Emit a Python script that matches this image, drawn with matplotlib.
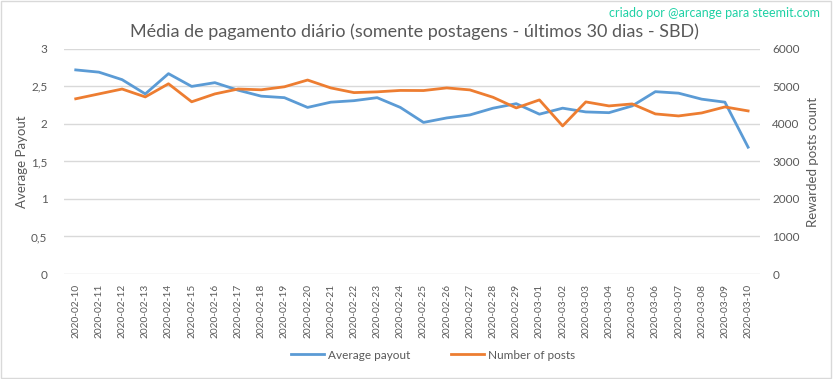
import matplotlib.pyplot as plt
from matplotlib.patches import Rectangle

plt.rcParams['font.family'] = ['Lato', 'DejaVu Sans']

dates = ['2020-02-10', '2020-02-11', '2020-02-12', '2020-02-13', '2020-02-14',
         '2020-02-15', '2020-02-16', '2020-02-17', '2020-02-18', '2020-02-19',
         '2020-02-20', '2020-02-21', '2020-02-22', '2020-02-23', '2020-02-24',
         '2020-02-25', '2020-02-26', '2020-02-27', '2020-02-28', '2020-02-29',
         '2020-03-01', '2020-03-02', '2020-03-03', '2020-03-04', '2020-03-05',
         '2020-03-06', '2020-03-07', '2020-03-08', '2020-03-09', '2020-03-10']
avg_payout = [2.72, 2.69, 2.59, 2.40, 2.67, 2.50, 2.55, 2.45, 2.37, 2.35,
              2.22, 2.29, 2.31, 2.35, 2.22, 2.02, 2.08, 2.12, 2.21, 2.27,
              2.13, 2.21, 2.16, 2.15, 2.24, 2.43, 2.41, 2.33, 2.29, 1.69]
num_posts = [4670, 4800, 4930, 4720, 5070, 4590, 4800, 4930, 4910, 4990,
             5170, 4960, 4835, 4855, 4893, 4890, 4960, 4907, 4710, 4427,
             4640, 3947, 4587, 4480, 4533, 4267, 4213, 4293, 4453, 4347]

blue = '#5B9BD5'
orange = '#ED7D31'
grid = '#D9D9D9'
txt = '#595959'

fig = plt.figure(figsize=(8.33, 3.79), dpi=100)
ax = fig.add_axes([0.077, 0.277, 0.835, 0.594])
ax2 = ax.twinx()

x = list(range(len(dates)))
ax.plot(x, avg_payout, color=blue, lw=2.0, label='Average payout', zorder=3)
ax2.plot(x, num_posts, color=orange, lw=2.0, label='Number of posts', zorder=3)

ax.set_xlim(-0.5, len(dates) - 0.5)
ax.set_ylim(0, 3)
ax2.set_ylim(0, 6000)
ax.set_yticks([0, 0.5, 1, 1.5, 2, 2.5, 3])
ax.set_yticklabels(['0', '0,5', '1', '1,5', '2', '2,5', '3'])
ax2.set_yticks(range(0, 6001, 1000))
ax.yaxis.grid(True, color=grid, lw=1)
ax.set_axisbelow(True)

ax.set_xticks(x)
ax.set_xticklabels(dates, rotation=90)

for a in (ax, ax2):
    for s in a.spines.values():
        s.set_visible(False)
    a.tick_params(length=0, colors=txt, labelsize=8.5)
ax.tick_params(axis='x', pad=7, labelsize=7.3)
ax.tick_params(axis='y', pad=12)
ax2.tick_params(axis='y', pad=9)

ax.set_ylabel('Average Payout', color=txt, fontsize=9.5, labelpad=2)
ax2.set_ylabel('Rewarded posts count', color=txt, fontsize=9.5, labelpad=5)

fig.text(0.497, 0.915, 'Média de pagamento diário (somente postagens - últimos 30 dias - SBD)',
         ha='center', va='center', fontsize=13, color=txt)
fig.text(0.984, 0.966, 'criado por @arcange para steemit.com', ha='right', va='center',
         fontsize=9, color='#1FD1A5')

h1, l1 = ax.get_legend_handles_labels()
h2, l2 = ax2.get_legend_handles_labels()
fig.legend(h1 + h2, l1 + l2, loc='center', bbox_to_anchor=(0.52, 0.063), ncol=2,
           frameon=False, fontsize=8.5, labelcolor=txt, handlelength=2.8,
           handletextpad=0.3, columnspacing=3.5)

fig.patches.append(Rectangle((0.001, 0.002), 0.997, 0.995, transform=fig.transFigure,
                             fill=False, edgecolor=grid, lw=1))

fig.savefig('out.png', dpi=100)
